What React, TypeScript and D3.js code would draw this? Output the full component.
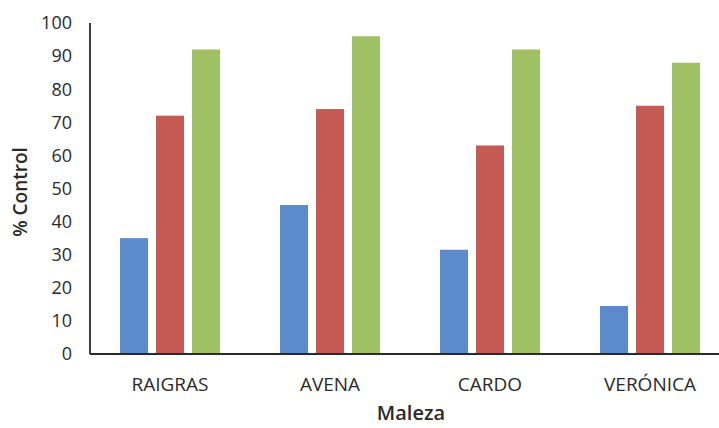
import React from "react";
import * as d3 from "d3";

const categories = ["RAIGRAS", "AVENA", "CARDO", "VERÓNICA"];
const seriesNames = ["S1", "S2", "S3"];
const series1 = [35, 45, 31.5, 14.5];
const series2 = [72, 74, 63, 75];
const series3 = [92, 96, 92, 88];
const yTicks = [0, 10, 20, 30, 40, 50, 60, 70, 80, 90, 100];
const colors = ["#5B8BCB", "#C55A55", "#A0C163"];

const W = 719;
const H = 428;

export default function App() {
  const allSeries = [series1, series2, series3];
  const x0 = d3.scaleBand<string>().domain(categories).range([90, 730]).paddingInner(0.375).paddingOuter(0.1875);
  const x1 = d3.scaleBand<string>().domain(seriesNames).range([0, x0.bandwidth()]).paddingInner(0.222).paddingOuter(0);
  const y = d3.scaleLinear().domain([0, 100]).range([354, 23]);
  const font = "'Open Sans', sans-serif";
  return (
    <svg width={W} height={H} style={{ position: "absolute", left: 0, top: 0, background: "#fff" }}>
      <rect x={0} y={0} width={W} height={H} fill="#fff" />
      {categories.map((c, i) =>
        allSeries.map((s, j) => (
          <rect
            key={c + j}
            x={(x0(c) as number) + (x1(seriesNames[j]) as number)}
            y={y(s[i])}
            width={x1.bandwidth()}
            height={y(0) - y(s[i])}
            fill={colors[j]}
          />
        ))
      )}
      <line x1={90} x2={W} y1={y(0)} y2={y(0)} stroke="#2a2a2a" strokeWidth={1.8} />
      <line x1={90} x2={90} y1={y(100)} y2={y(0)} stroke="#2a2a2a" strokeWidth={1.8} />
      {yTicks.map((t) => (
        <text key={t} x={72} y={y(t)} dy="0.35em" textAnchor="end" fontFamily={font} fontSize={18} fill="#2a2a2a">
          {t}
        </text>
      ))}
      {categories.map((c) => (
        <text
          key={c}
          x={(x0(c) as number) + x0.bandwidth() / 2}
          y={384}
          dy="0.35em"
          textAnchor="middle"
          fontFamily={font}
          fontSize={19}
          fill="#2a2a2a"
        >
          {c}
        </text>
      ))}
      <text x={411} y={413} dy="0.35em" textAnchor="middle" fontFamily={font} fontSize={20} fontWeight={600} fill="#2a2a2a">
        Maleza
      </text>
      <text
        transform={`translate(20,192) rotate(-90)`}
        dy="0.35em"
        textAnchor="middle"
        fontFamily={font}
        fontSize={19}
        fontWeight={600}
        fill="#2a2a2a"
      >
        % Control
      </text>
    </svg>
  );
}
